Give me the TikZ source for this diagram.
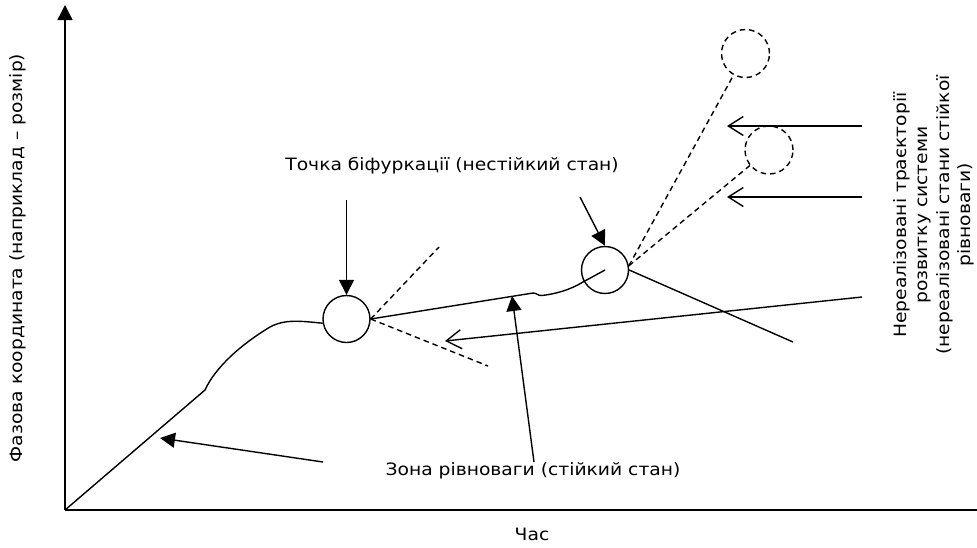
\documentclass[tikz,border=0pt]{standalone}
\usepackage{fontspec}
\setmainfont{DejaVu Sans}[FakeStretch=1.1]
\usetikzlibrary{arrows.meta}
\begin{document}
\begin{tikzpicture}[x=1pt,y=-1pt,
  ln/.style={line width=1.4pt},
  dsh/.style={line width=1.4pt,dash pattern=on 5.5pt off 4pt},
  farrow/.style={ln,-{Triangle[length=15pt,width=15pt]}},
  oarrow/.style={ln,-{Straight Barb[length=15pt,width=19pt,line width=1.4pt]}},
  state/.style={circle,draw,line width=1.4pt,minimum size=47pt,inner sep=0pt},
  ghost/.style={circle,draw,dsh,minimum size=48pt,inner sep=0pt},
  lbl/.style={font=\fontsize{17}{21.5}\selectfont,inner sep=0pt}]
\useasboundingbox (0,0) rectangle (977,547);
% axes
\coordinate (O) at (65,510);
\coordinate (ytop) at (65,5);
\coordinate (xend) at (977,510);
\draw[farrow] (O) -- (ytop);
\draw[ln] (O) -- (xend);
% states
\node[state] (c1) at (346.5,319) {};
\node[state] (c2) at (605,270) {};
\node[ghost] (d1) at (745.5,53.5) {};
\node[ghost] (d2) at (769,150) {};
% trajectory
\coordinate (k1) at (205,390);
\draw[ln] (O) -- (k1) .. controls (215,368) and (240,345) .. (270,327)
  .. controls (285,319) and (300,321) .. (c1.190);
\coordinate (w1) at (533,293);
\draw[ln] (c1.east) -- (w1) .. controls (537,293) and (538,296) .. (542,295.5)
  .. controls (555,294) and (570,290) .. (583,282) -- (c2.center);
\coordinate (r1) at (793,342);
\draw[ln] (c2.east) -- (r1);
% unrealised branches
\coordinate (b1) at (439,247);
\coordinate (b2) at (488,366);
\draw[dsh] (c1.east) -- (b1);
\draw[dsh] (c1.east) -- (b2);
\draw[dsh] (c2.10) -- (d1.241);
\draw[dsh] (c2.10) -- (d2.219);
% labels
\node[lbl] (tb) at (452,166) {Точка біфуркації (нестійкий стан)};
\node[lbl] (tz) at (533,471) {Зона рівноваги (стійкий стан)};
\node[lbl] (tx) at (532,534) {Час};
\node[lbl,rotate=90] (ty) at (18,258) {Фазова координата (наприклад – розмір)};
\node[lbl,rotate=90,align=center] (tn) at (934,215)
  {Нереалізовані траєкторії\\розвитку системи\\(нереалізовані стани стійкої\\рівноваги)};
% pointer arrows
\coordinate (a1s) at (346.5,200);
\draw[farrow] (a1s) -- (c1.north);
\coordinate (a2s) at (580,197);
\draw[farrow] (a2s) -- (c2.north);
\coordinate (a3s) at (534,462);
\coordinate (a3e) at (512,296);
\draw[farrow] (a3s) -- (a3e);
\coordinate (a4s) at (323,462);
\coordinate (a4e) at (160,438);
\draw[farrow] (a4s) -- (a4e);
\coordinate (o1s) at (862,297);
\coordinate (o1e) at (445,341);
\draw[oarrow] (o1s) -- (o1e);
\coordinate (o2s) at (862,126);
\coordinate (o2e) at (727,126);
\draw[oarrow] (o2s) -- (o2e);
\coordinate (o3s) at (862,197);
\coordinate (o3e) at (727,197);
\draw[oarrow] (o3s) -- (o3e);
\end{tikzpicture}
\end{document}
